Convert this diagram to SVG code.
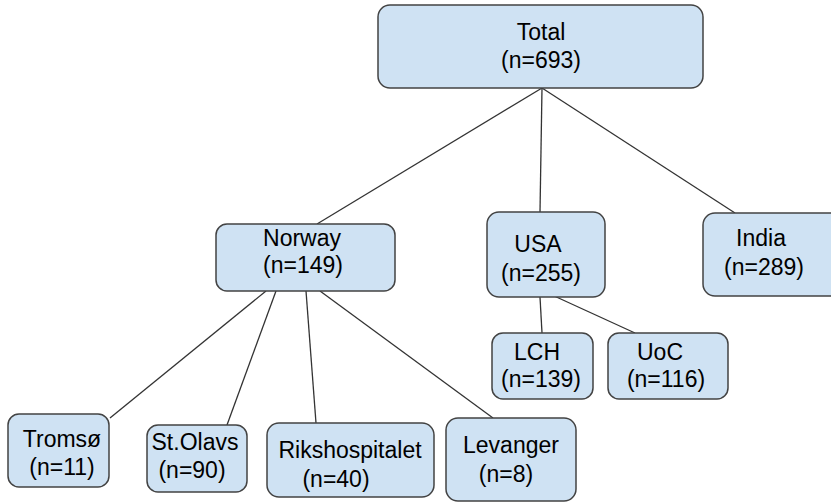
<svg xmlns="http://www.w3.org/2000/svg" width="831" height="502" viewBox="0 0 831 502">
<style>
.box{fill:#cfe2f3;stroke:#434343;stroke-width:1.5}
.lbl{font-family:"Liberation Sans",Arial,sans-serif;font-size:23px;fill:#000;text-anchor:middle}
.conn line{stroke:#333;stroke-width:1.3}
</style>
<rect width="831" height="502" fill="#fff"/>
<g id="connectors" class="conn">
<line x1="542" y1="88" x2="317" y2="224"/>
<line x1="542" y1="88" x2="540" y2="212"/>
<line x1="542" y1="88" x2="735" y2="213"/>
<line x1="266" y1="291" x2="110" y2="418"/>
<line x1="276" y1="291" x2="227" y2="425"/>
<line x1="306" y1="291" x2="316" y2="423"/>
<line x1="320" y1="291" x2="493" y2="418"/>
<line x1="540" y1="297" x2="542" y2="333"/>
<line x1="552" y1="295" x2="635" y2="333"/>
</g>
<g id="total"><rect class="box" x="378" y="5" width="325" height="83" rx="12"/><text class="lbl" x="541" y="40">Total</text><text class="lbl" x="541" y="68">(n=693)</text></g>
<g id="norway"><rect class="box" x="216" y="224" width="179" height="67" rx="11"/><text class="lbl" x="302" y="246">Norway</text><text class="lbl" x="303" y="273">(n=149)</text></g>
<g id="usa"><rect class="box" x="487" y="212" width="118" height="85" rx="12"/><text class="lbl" x="538" y="252">USA</text><text class="lbl" x="541" y="281">(n=255)</text></g>
<g id="india"><rect class="box" x="703" y="213" width="140" height="83" rx="12"/><text class="lbl" x="761" y="246">India</text><text class="lbl" x="764" y="275">(n=289)</text></g>
<g id="tromso"><rect class="box" x="8" y="414" width="101" height="73" rx="11"/><text class="lbl" x="62" y="447">Tromsø</text><text class="lbl" x="62" y="475">(n=11)</text></g>
<g id="stolavs"><rect class="box" x="147" y="425" width="100" height="67" rx="11"/><text class="lbl" x="195" y="450">St.Olavs</text><text class="lbl" x="192" y="478">(n=90)</text></g>
<g id="rikshospitalet"><rect class="box" x="267" y="423" width="167" height="74" rx="12"/><text class="lbl" x="350" y="458">Rikshospitalet</text><text class="lbl" x="336" y="487">(n=40)</text></g>
<g id="levanger"><rect class="box" x="446" y="418" width="130" height="83" rx="12"/><text class="lbl" x="511" y="453">Levanger</text><text class="lbl" x="506" y="482">(n=8)</text></g>
<g id="lch"><rect class="box" x="492" y="333" width="101" height="66" rx="11"/><text class="lbl" x="537" y="360">LCH</text><text class="lbl" x="541" y="387">(n=139)</text></g>
<g id="uoc"><rect class="box" x="608" y="333" width="120" height="66" rx="11"/><text class="lbl" x="660" y="360">UoC</text><text class="lbl" x="666" y="387">(n=116)</text></g>
</svg>
